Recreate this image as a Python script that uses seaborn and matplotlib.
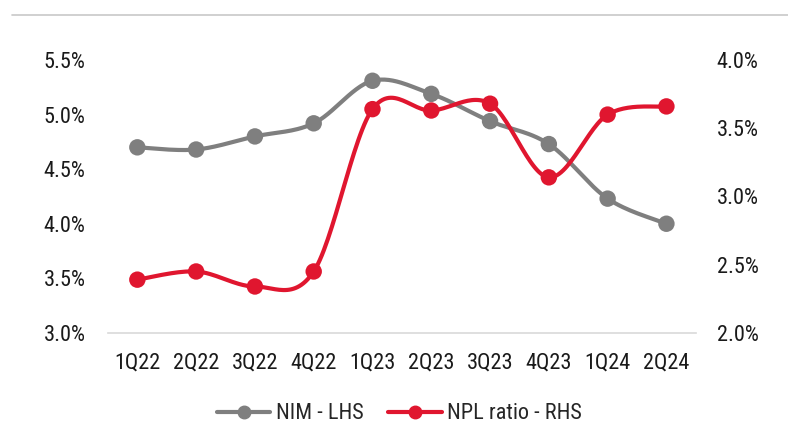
import numpy as np
import pandas as pd
import seaborn as sns
import matplotlib.pyplot as plt
from matplotlib import font_manager
from matplotlib.lines import Line2D
from matplotlib.ticker import FuncFormatter

# data
quarters = ["1Q22", "2Q22", "3Q22", "4Q22", "1Q23", "2Q23", "3Q23", "4Q23", "1Q24", "2Q24"]
nim = [4.70, 4.68, 4.80, 4.92, 5.31, 5.19, 4.94, 4.73, 4.23, 4.00]
npl = [2.39, 2.45, 2.34, 2.45, 3.64, 3.63, 3.68, 3.14, 3.60, 3.66]

GREY = "#7f7f7f"
RED = "#e0162f"
FS = 16

sns.set_theme(style="white")
installed = {f.name for f in font_manager.fontManager.ttflist}
narrow = [f for f in ["Liberation Sans Narrow", "Arial Narrow", "Roboto Condensed", "Pragati Narrow",
                      "Archivo Narrow", "PT Sans Narrow"] if f in installed]
plt.rcParams["font.family"] = narrow[:1] + ["DejaVu Sans"]

df = pd.DataFrame({"quarter": quarters, "x": np.arange(len(quarters)), "nim": nim, "npl": npl})


def smooth(xs, ys, n=30):
    # bezier smoothing between points, like a spreadsheet "smoothed line"
    xs = np.asarray(xs, float)
    ys = np.asarray(ys, float)
    px = np.concatenate([[xs[0]], xs, [xs[-1]]])
    py = np.concatenate([[ys[0]], ys, [ys[-1]]])
    outx, outy = [], []
    t = np.linspace(0, 1, n)
    for i in range(1, len(px) - 2):
        p0 = np.array([px[i], py[i]])
        p3 = np.array([px[i + 1], py[i + 1]])
        p1 = p0 + (np.array([px[i + 1], py[i + 1]]) - np.array([px[i - 1], py[i - 1]])) / 6
        p2 = p3 - (np.array([px[i + 2], py[i + 2]]) - np.array([px[i], py[i]])) / 6
        b = ((1 - t) ** 3)[:, None] * p0 + (3 * (1 - t) ** 2 * t)[:, None] * p1 \
            + (3 * (1 - t) * t ** 2)[:, None] * p2 + (t ** 3)[:, None] * p3
        outx.extend(b[:, 0])
        outy.extend(b[:, 1])
    return outx, outy


fig = plt.figure(figsize=(7.88, 4.48), dpi=100)
ax = fig.add_axes([0.137, 0.257, 0.746, 0.609])
ax2 = ax.twinx()

sx, sy = smooth(df["x"], df["nim"])
ax.plot(sx, sy, color=GREY, lw=3, solid_capstyle="round", zorder=2)
sns.scatterplot(data=df, x="x", y="nim", ax=ax, color=GREY, s=140, edgecolor="none", zorder=3, legend=False)

sx, sy = smooth(df["x"], df["npl"])
ax2.plot(sx, sy, color=RED, lw=3, solid_capstyle="round", zorder=2)
sns.scatterplot(data=df, x="x", y="npl", ax=ax2, color=RED, s=140, edgecolor="none", zorder=3, legend=False)

ax.set_xlim(-0.5, 9.5)
ax.set_ylim(3.0, 5.5)
ax2.set_ylim(2.0, 4.0)
ax.set_yticks(np.arange(3.0, 5.51, 0.5))
ax2.set_yticks(np.arange(2.0, 4.01, 0.5))
fmt = FuncFormatter(lambda v, p: f"{v:.1f}%")
ax.yaxis.set_major_formatter(fmt)
ax2.yaxis.set_major_formatter(fmt)
ax.set_xticks(df["x"])
ax.set_xticklabels(quarters)
ax.set_xlabel("")
ax.set_ylabel("")
ax2.set_ylabel("")

for a in (ax, ax2):
    for s in a.spines.values():
        s.set_visible(False)
    a.tick_params(length=0, labelsize=FS, colors="#1a1a1a")
ax.spines["bottom"].set_visible(True)
ax.spines["bottom"].set_color("#d9d9d9")
ax.spines["bottom"].set_linewidth(1.2)
ax.tick_params(axis="y", pad=16)
ax.tick_params(axis="x", pad=14)
ax2.tick_params(axis="y", pad=15)

# thin rule at the top of the figure
fig.add_artist(Line2D([0.015, 1.0], [0.967, 0.967], color="#c8c8c8", lw=1.2))

handles = [
    Line2D([], [], color=GREY, lw=3, marker="o", markersize=9),
    Line2D([], [], color=RED, lw=3, marker="o", markersize=9),
]
fig.legend(handles, ["NIM - LHS", "NPL ratio - RHS"], loc="center", bbox_to_anchor=(0.507, 0.076),
           ncol=2, frameon=False, fontsize=FS, handlelength=2.4, handletextpad=0.25, columnspacing=1.1)

plt.savefig("out.png", dpi=100)
